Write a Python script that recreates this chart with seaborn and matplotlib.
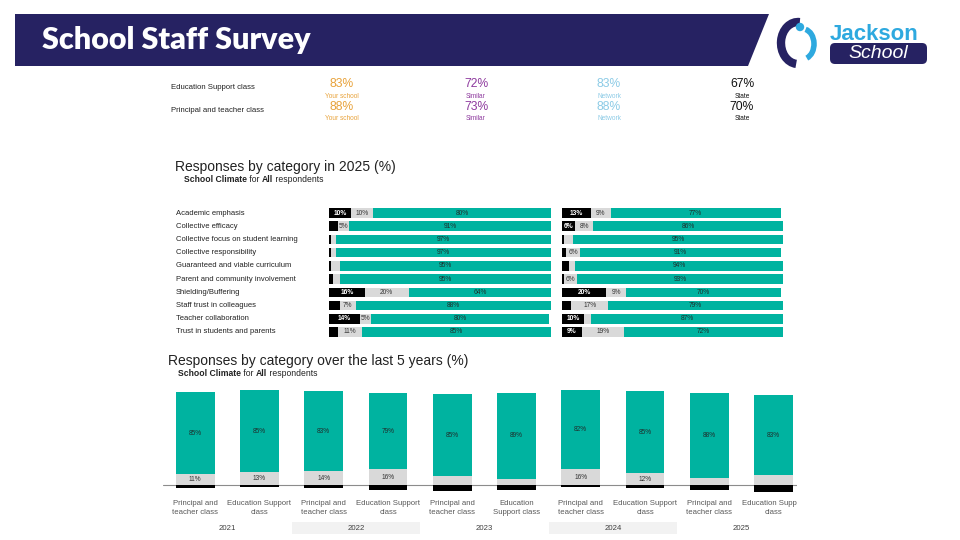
import numpy as np
import pandas as pd
import matplotlib
matplotlib.use("Agg")
import matplotlib.pyplot as plt
import matplotlib.patches as mpatches
import matplotlib.transforms as mtransforms
import seaborn as sns

# headline numbers
stat_rows = ["Education Support class", "Principal and teacher class"]
stat_names = ["Your school", "Similar", "Network", "State"]
stat_edu = [83, 72, 83, 67]
stat_pri = [88, 73, 88, 70]

# responses by category in 2025
categories = ["Academic emphasis", "Collective efficacy", "Collective focus on student learning",
              "Collective responsibility", "Guaranteed and viable curriculum",
              "Parent and community involvement", "Shielding/Buffering",
              "Staff trust in colleagues", "Teacher collaboration", "Trust in students and parents"]
left_neg = [10, 4, 1, 1, 1, 2, 16, 5, 14, 4]
left_neu = [10, 5, 2, 2, 4, 3, 20, 7, 5, 11]
left_pos = [80, 91, 97, 97, 95, 95, 64, 88, 80, 85]
right_neg = [13, 6, 1, 2, 3, 1, 20, 4, 10, 9]
right_neu = [9, 8, 4, 6, 3, 6, 9, 17, 3, 19]
right_pos = [77, 86, 95, 91, 94, 93, 70, 79, 87, 72]

# last 5 years
years = ["2021", "2022", "2023", "2024", "2025"]
groups = ["Principal and teacher class", "Education Support class"]
bar_labels = ["Principal and\nteacher class", "Education Support\nclass",
              "Principal and\nteacher class", "Education Support\nclass",
              "Principal and\nteacher class", "Education\nSupport class",
              "Principal and\nteacher class", "Education Support\nclass",
              "Principal and\nteacher class", "Education Support\nclass"]
trend_pos = [85, 85, 83, 79, 85, 89, 82, 85, 88, 83]
trend_neu = [11, 13, 14, 16, 9, 6, 16, 12, 7, 10]
trend_neg = [3, 2, 3, 5, 6, 5, 2, 3, 5, 7]

TEAL = "#00b3a0"
GREY = "#d9d9d9"
NAVY = "#262262"
LBLUE = "#2ea9df"
TXT = "#222222"
stat_colors = ["#e8a23a", "#8e3a9e", "#8ccbe6", "#111111"]

sns.set_style("white")
plt.rcParams["font.family"] = ["Liberation Sans", "DejaVu Sans"]

fig = plt.figure(figsize=(9.6, 5.4), dpi=100)
ov = fig.add_axes([0, 0, 1, 1])
ov.set_xlim(0, 960)
ov.set_ylim(540, 0)
ov.axis("off")


def px_axes(l, t, r, b):
    ax = fig.add_axes([l / 960, 1 - b / 540, (r - l) / 960, (b - t) / 540])
    ax.patch.set_alpha(0)
    return ax


def subtitle(x, y):
    parts = [(" for ", "normal"), ("All", "bold"), (" respondents", "normal")]
    t = ov.text(x, y, "School Climate", fontsize=6.2, fontweight="bold", va="center", color=TXT)
    for s, w in parts:
        t = ov.annotate(s, xy=(1, 0), xycoords=t, va="bottom", ha="left",
                        fontsize=6.2, fontweight=w, color=TXT)


# header band + logo
ov.add_patch(mpatches.Polygon([(15, 14), (769, 14), (748, 66), (15, 66)], closed=True, color=NAVY, lw=0))
ov.text(42, 40, "School Staff Survey", color="white", fontsize=22, fontweight="heavy",
        family=["Lato", "DejaVu Sans"], va="center")
ov.add_patch(mpatches.Arc((798, 43), 34, 42, theta1=95, theta2=275, color=NAVY, lw=6))
ov.add_patch(mpatches.Arc((803, 44), 22, 30, theta1=-80, theta2=75, color=LBLUE, lw=4))
ov.add_patch(mpatches.Circle((800, 27), 3.5, color=LBLUE))
ov.text(830, 40, "Jackson", color=LBLUE, fontsize=16, fontweight="bold", va="baseline")
ov.add_patch(mpatches.FancyBboxPatch((830, 43), 97, 21, boxstyle="round,pad=0,rounding_size=5",
                                     color=NAVY, lw=0))
ov.text(878, 54, "School", color="white", fontsize=14, style="italic", ha="center", va="center")

# headline rows
stat_x = [342, 476, 609, 742]
for row, vals, y in zip(stat_rows, [stat_edu, stat_pri], [84, 107]):
    ov.text(171, y + 3.7, row, fontsize=5.6, color=TXT, va="center")
    for x, v, name, c in zip(stat_x, vals, stat_names, stat_colors):
        ov.text(x, y, f"{v}%", fontsize=8.7, color=c, ha="center", va="center")
        ov.text(x, y + 12, name, fontsize=4.7, color=c, ha="center", va="center")

# category panels
ov.text(175, 166.5, "Responses by category in 2025 (%)", fontsize=10, color=TXT, va="center")
subtitle(184, 179.3)


def hbar_panel(ax, neg, neu, pos):
    df = pd.DataFrame({"category": categories, "neg": neg, "neu": neu, "pos": pos})
    df["neg_neu"] = df["neg"] + df["neu"]
    df["total"] = df["neg_neu"] + df["pos"]
    for col, c in [("total", TEAL), ("neg_neu", GREY), ("neg", "black")]:
        sns.barplot(data=df, y="category", x=col, orient="h", color=c, saturation=1,
                    width=0.72, errorbar=None, linewidth=0, ax=ax)
    ax.set_xlim(0, 100)
    ax.set_ylim(len(categories) - 0.5, -0.5)
    ax.axis("off")
    for i, (a, b, p) in enumerate(zip(neg, neu, pos)):
        if a >= 6:
            ax.text(a / 2, i, f"{a}%", color="white", fontsize=4.8, ha="center", va="center",
                    fontweight="bold")
        if b >= 5:
            ax.text(a + b / 2, i, f"{b}%", color="#333333", fontsize=4.8, ha="center", va="center")
        ax.text(a + b + p / 2, i, f"{p}%", color="#1f2f2d", fontsize=4.8, ha="center", va="center")


ax_l = px_axes(329, 206.4, 551, 338.6)
hbar_panel(ax_l, left_neg, left_neu, left_pos)
ax_r = px_axes(562, 206.4, 783, 338.6)
hbar_panel(ax_r, right_neg, right_neu, right_pos)

cat_trans = mtransforms.blended_transform_factory(ov.transData, ax_l.transData)
for i, cat in enumerate(categories):
    ov.text(176, i, cat, transform=cat_trans, fontsize=5.5, color=TXT, va="center")

# five year trend
ov.text(168, 361.5, "Responses by category over the last 5 years (%)", fontsize=10, color=TXT, va="center")
subtitle(178, 374)

trend_df = pd.DataFrame({
    "bar": [f"{y} {g}" for y in years for g in groups],
    "pos": trend_pos, "neu": trend_neu, "neg": trend_neg,
})
trend_df["top"] = trend_df["neu"] + trend_df["pos"]
trend_df["down"] = -trend_df["neg"]

ax_b = px_axes(163.1, 380, 797, 500)
for col, c in [("top", TEAL), ("neu", GREY), ("down", "black")]:
    sns.barplot(data=trend_df, x="bar", y=col, color=c, saturation=1, width=0.6,
                errorbar=None, linewidth=0, ax=ax_b)
ax_b.set_xlim(-0.5, 9.365)
ax_b.set_ylim(-15.5, 108.2)
ax_b.axhline(0, color="#8c8c8c", lw=0.8, zorder=0)
ax_b.axis("off")
for i, (p, n) in enumerate(zip(trend_pos, trend_neu)):
    ax_b.text(i, n + p / 2, f"{p}%", color="#1f2f2d", fontsize=4.7, ha="center", va="center")
    if n >= 11:
        ax_b.text(i, n / 2, f"{n}%", color="#333333", fontsize=4.7, ha="center", va="center")

clip = mtransforms.TransformedBbox(mtransforms.Bbox([[0, 0], [797 / 960, 1]]), fig.transFigure)
b_trans = mtransforms.blended_transform_factory(ax_b.transData, ov.transData)
for i, lab in enumerate(bar_labels):
    t = ov.text(i, 508, lab, transform=b_trans, fontsize=5.6, color="#595959",
                ha="center", va="center", linespacing=1.3)
    t.set_clip_box(clip)
    t.set_clip_on(True)
for k, yr in enumerate(years):
    if k % 2 == 1:
        ov.add_patch(mpatches.Rectangle((2 * k - 0.5, 522.3), 2, 12, transform=b_trans,
                                        color="#f2f2f2", lw=0, zorder=0))
    ov.text(2 * k + 0.5, 528.3, yr, transform=b_trans, fontsize=5.6, color="#404040",
            ha="center", va="center")

fig.savefig("out.png", dpi=100)
